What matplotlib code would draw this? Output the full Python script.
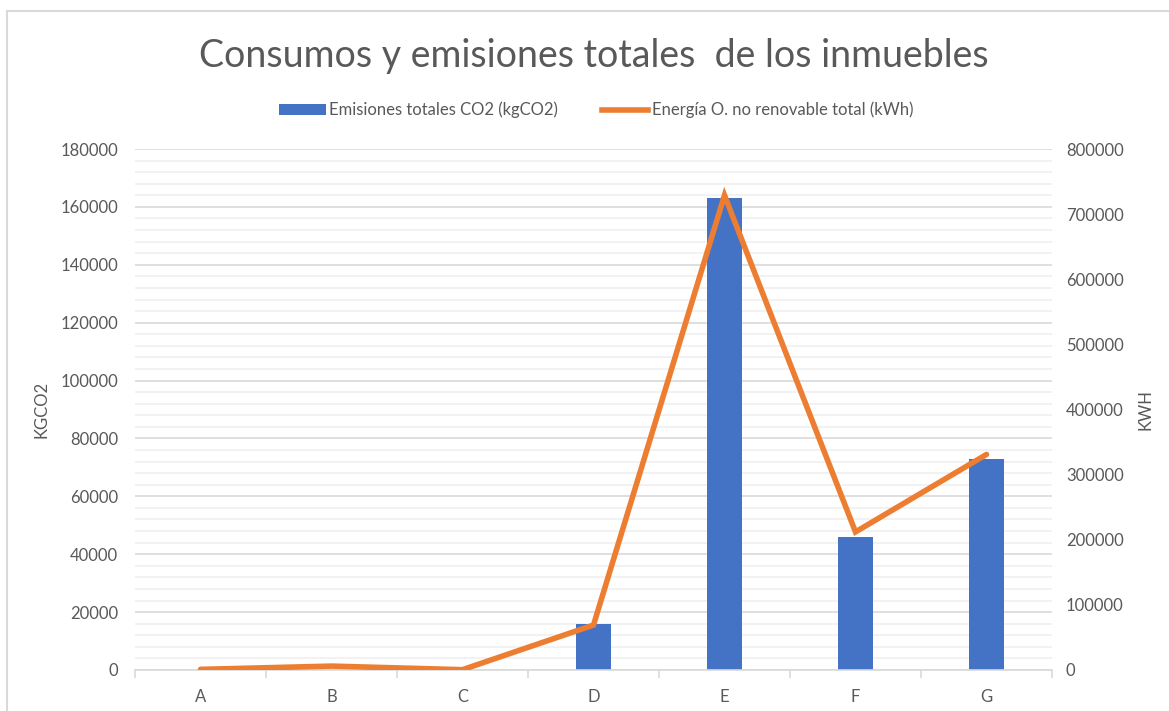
import numpy as np
import matplotlib.pyplot as plt
from matplotlib.lines import Line2D
from matplotlib.patches import Patch, Rectangle

# Datos
categorias = ['A', 'B', 'C', 'D', 'E', 'F', 'G']
emisiones_co2 = [0, 0, 0, 16000, 163000, 46000, 73000]          # kgCO2
energia_no_renov = [1000, 6000, 500, 69000, 729000, 212000, 331000]  # kWh

plt.rcParams['font.family'] = ['Lato', 'DejaVu Sans']

BLUE = '#4472C4'
ORANGE = '#ED7D31'
TXT = '#595959'
GRID = '#D9D9D9'

fig = plt.figure(figsize=(11.69, 7.11), dpi=100)
fig.patches.append(Rectangle((7 / 1169, -0.1), 1.2, (711 - 11) / 711 + 0.1,
                             transform=fig.transFigure, fill=False,
                             edgecolor='#D9D9D9', linewidth=1.5))

ax = fig.add_axes([135 / 1169, 41 / 711, 917 / 1169, 521 / 711])
x = np.arange(len(categorias))

ax.set_xlim(-0.5, len(categorias) - 0.5)
ax.set_ylim(0, 180000)
ax.set_yticks(np.arange(0, 180001, 20000))
ax.set_yticks(np.arange(0, 180001, 4000), minor=True)
ax.grid(True, which='major', axis='y', color=GRID, linewidth=1.2)
ax.grid(True, which='minor', axis='y', color='#F0F0F0', linewidth=1.2)
ax.set_axisbelow(True)

ax.bar(x, emisiones_co2, width=0.27, color=BLUE, zorder=2)

for s in ['top', 'right', 'left']:
    ax.spines[s].set_visible(False)
ax.spines['bottom'].set_color(GRID)
ax.spines['bottom'].set_linewidth(1.2)

ax.set_xticks(x)
ax.set_xticklabels(categorias)
ax.set_xticks(np.arange(-0.5, len(categorias), 1), minor=True)
ax.tick_params(axis='x', which='major', length=0, pad=14, labelsize=12, labelcolor=TXT)
ax.tick_params(axis='x', which='minor', length=6, color=GRID, width=1.2)
ax.tick_params(axis='y', which='both', length=0, pad=12, labelsize=12, labelcolor=TXT)
ax.set_ylabel('KGCO2', fontsize=12, color=TXT, labelpad=8)

ax2 = ax.twinx()
ax2.set_ylim(0, 800000)
ax2.set_yticks(np.arange(0, 800001, 100000))
ax2.plot(x, energia_no_renov, color=ORANGE, linewidth=4, solid_joinstyle='miter',
         solid_capstyle='round', zorder=3)
for s in ['top', 'right', 'left', 'bottom']:
    ax2.spines[s].set_visible(False)
ax2.tick_params(axis='y', length=0, pad=10, labelsize=12, labelcolor=TXT)
ax2.set_ylabel('KWH', fontsize=12, color=TXT, labelpad=10)

fig.text(0.508, 0.921, 'Consumos y emisiones totales  de los inmuebles',
         ha='center', va='center', fontsize=27, color=TXT, fontweight='normal')

handles = [Patch(facecolor=BLUE, edgecolor='none'),
           Line2D([0], [0], color=ORANGE, linewidth=4)]
fig.legend(handles, ['Emisiones totales CO2 (kgCO2)', 'Energía O. no renovable total (kWh)'],
           loc='center', bbox_to_anchor=(0.510, 0.845), ncol=2, frameon=False,
           fontsize=12, labelcolor=TXT, handlelength=2.8, handletextpad=0.2,
           columnspacing=2.6)

fig.savefig('out.png', dpi=100)
